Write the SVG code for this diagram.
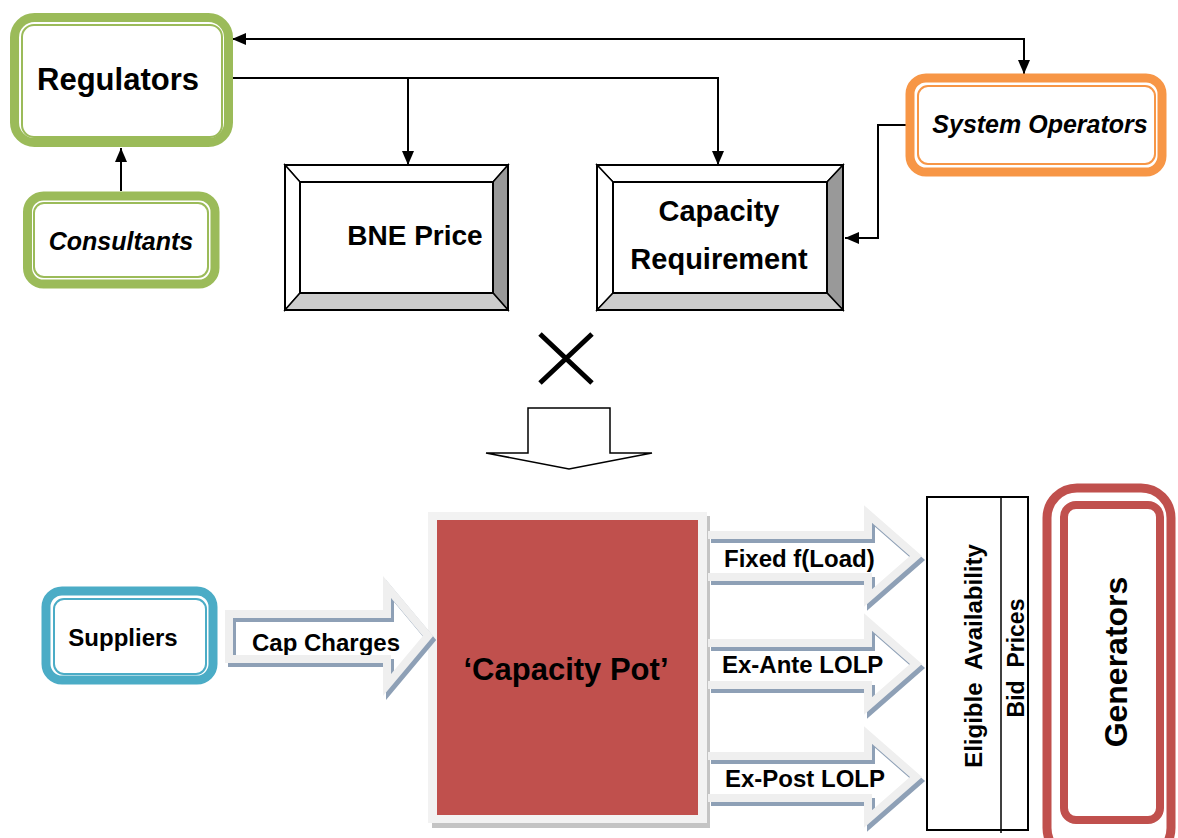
<svg xmlns="http://www.w3.org/2000/svg" width="1178" height="838" viewBox="0 0 1178 838">
<defs>
<marker id="ah" viewBox="0 0 14 12" refX="14" refY="6" markerWidth="14" markerHeight="12" markerUnits="userSpaceOnUse" orient="auto">
<path d="M0,0 L14,6 L0,12 z" fill="#000"/>
</marker>
<style>
text{font-family:"Liberation Sans",Arial,sans-serif;font-weight:bold;fill:#000}
.it{font-style:italic}
.mid{text-anchor:middle}
.conn{fill:none;stroke:#000;stroke-width:2}
.gOut{fill:#fff;stroke:#9BBB59;stroke-width:9}
.gIn{fill:none;stroke:#9BBB59;stroke-width:2}
.oOut{fill:#fff;stroke:#F79646;stroke-width:9}
.oIn{fill:none;stroke:#F79646;stroke-width:2}
.bOut{fill:#fff;stroke:#4BACC6;stroke-width:9}
.bIn{fill:none;stroke:#4BACC6;stroke-width:2}
.bev{stroke:#000;stroke-width:1.5;stroke-linejoin:miter}
.arS{fill:none;stroke:#8EA0B6;stroke-width:8}
.arL{fill:none;stroke:#EFEFEF;stroke-width:8}
</style>
</defs>
<rect width="1178" height="838" fill="#fff"/>

<g id="connectors">
<path class="conn" d="M1024,74 V39 H232" marker-end="url(#ah)"/>
<path class="conn" d="M1024,39 V74" marker-end="url(#ah)"/>
<path class="conn" d="M232,78 H718 V165" marker-end="url(#ah)"/>
<path class="conn" d="M408,78 V165" marker-end="url(#ah)"/>
<path class="conn" d="M121,191 V148" marker-end="url(#ah)"/>
<path class="conn" d="M908,125 H878 V238 H845" marker-end="url(#ah)"/>
</g>

<g id="regulators">
<rect class="gOut" x="14.5" y="17.5" width="214" height="125" rx="20"/>
<rect class="gIn" x="22" y="25" width="200" height="112" rx="12"/>
<text class="mid" x="118" y="90" font-size="31">Regulators</text>
</g>

<g id="consultants">
<rect class="gOut" x="27.5" y="196" width="187.5" height="88" rx="16"/>
<rect class="gIn" x="34" y="203" width="174" height="74" rx="10"/>
<text class="mid it" x="121" y="250" font-size="25">Consultants</text>
</g>

<g id="system-operators">
<rect class="oOut" x="910" y="78" width="252" height="94" rx="16"/>
<rect class="oIn" x="918" y="86" width="237" height="78" rx="10"/>
<text class="mid it" x="1040" y="133" font-size="25">System Operators</text>
</g>

<g id="bne-price">
<polygon class="bev" points="285,165 508,165 493,182 300,182" fill="#fff"/>
<polygon class="bev" points="285,165 300,182 300,293 285,310" fill="#fff"/>
<polygon class="bev" points="508,165 508,310 493,293 493,182" fill="#999"/>
<polygon class="bev" points="285,310 508,310 493,293 300,293" fill="#ccc"/>
<rect x="300" y="182" width="193" height="111" fill="#fff" stroke="#000" stroke-width="2"/>
<rect x="285" y="165" width="223" height="145" fill="none" stroke="#000" stroke-width="2"/>
<text class="mid" x="415" y="245" font-size="28">BNE Price</text>
</g>

<g id="capacity-requirement">
<polygon class="bev" points="597,165 843,165 827,182 613,182" fill="#fff"/>
<polygon class="bev" points="597,165 613,182 613,293 597,310" fill="#fff"/>
<polygon class="bev" points="843,165 843,310 827,293 827,182" fill="#999"/>
<polygon class="bev" points="597,310 843,310 827,293 613,293" fill="#ccc"/>
<rect x="613" y="182" width="214" height="111" fill="#fff" stroke="#000" stroke-width="2"/>
<rect x="597" y="165" width="246" height="145" fill="none" stroke="#000" stroke-width="2"/>
<text class="mid" x="719" y="221" font-size="29">Capacity</text>
<text class="mid" x="719" y="269" font-size="29">Requirement</text>
</g>

<g id="times">
<path d="M540,334 L592,383 M592,334 L540,383" stroke="#000" stroke-width="5" fill="none"/>
</g>

<g id="down-arrow">
<polygon points="528,408 610,408 610,453 652,453 569,469 486,453 528,453" fill="#fff" stroke="#000" stroke-width="1.5"/>
</g>

<g id="capacity-pot">
<rect x="432" y="516" width="278" height="312" fill="#C4C4C4"/>
<rect x="428" y="512" width="279" height="311" fill="#F2F2F2"/>
<rect x="437" y="520" width="261" height="295" fill="#C0504D"/>
<text class="mid" x="566" y="680" font-size="31">‘Capacity Pot’</text>
</g>

<g id="suppliers">
<rect class="bOut" x="46" y="591" width="167" height="89" rx="16"/>
<rect class="bIn" x="54" y="599" width="152" height="75" rx="10"/>
<text class="mid" x="123" y="646" font-size="24">Suppliers</text>
</g>

<g id="cap-charges">
<text x="252" y="651" font-size="24">Cap Charges</text>
<path class="arS" transform="translate(3,4)" d="M229,614 H387 V587 L428,636 L387,685 V659 H229 Z"/>
<path class="arL" d="M229,614 H387 V587 L428,636 L387,685 V659 H229 Z"/>
</g>

<g id="fixed-load">
<text x="724" y="567" font-size="24">Fixed f(Load)</text>
<path class="arS" transform="translate(3,4)" d="M708,535 H868 V514 L916,556 L868,598 V577 H708"/>
<path class="arL" d="M708,535 H868 V514 L916,556 L868,598 V577 H708"/>
</g>

<g id="ex-ante">
<text x="722" y="673" font-size="24">Ex-Ante LOLP</text>
<path class="arS" transform="translate(3,4)" d="M708,643 H868 V622 L916,664 L868,706 V685 H708"/>
<path class="arL" d="M708,643 H868 V622 L916,664 L868,706 V685 H708"/>
</g>

<g id="ex-post">
<text x="725" y="787" font-size="24">Ex-Post LOLP</text>
<path class="arS" transform="translate(3,4)" d="M708,756 H868 V735 L916,777 L868,819 V798 H708"/>
<path class="arL" d="M708,756 H868 V735 L916,777 L868,819 V798 H708"/>
</g>

<g id="eligible-bid">
<rect x="927" y="497" width="101" height="333" fill="#fff" stroke="#000" stroke-width="2"/>
<line x1="1001" y1="497" x2="1001" y2="833" stroke="#000" stroke-width="1.5"/>
<text class="mid" transform="translate(982,656) rotate(-90)" font-size="24" style="white-space:pre">Eligible  Availability</text>
<text class="mid" transform="translate(1024,658) rotate(-90)" font-size="23" style="white-space:pre">Bid  Prices</text>
</g>

<g id="generators">
<rect x="1047" y="488" width="124" height="370" rx="30" fill="#fff" stroke="#C0504D" stroke-width="9"/>
<rect x="1064" y="505" width="96" height="315" rx="12" fill="none" stroke="#C0504D" stroke-width="8"/>
<text class="mid" transform="translate(1127,662) rotate(-90)" font-size="32">Generators</text>
</g>
</svg>
